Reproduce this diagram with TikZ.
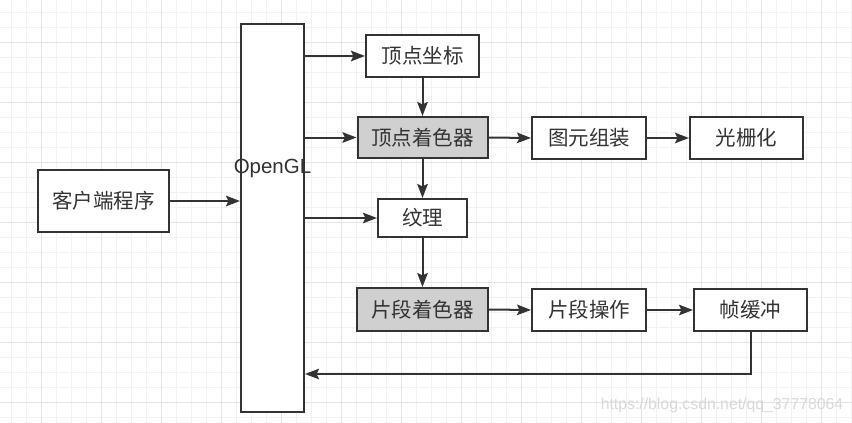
\documentclass[tikz,border=0pt]{standalone}
\usepackage{fontspec}
\setmainfont{Liberation Sans}
\newfontfamily\cjk{Noto Sans CJK SC}
\usetikzlibrary{arrows.meta}
\definecolor{ln}{HTML}{333333}
\definecolor{shade}{HTML}{D0D0D0}
\definecolor{gridminor}{HTML}{F2F2F2}
\definecolor{gridmajor}{HTML}{E4E4E4}
\begin{document}
\begin{tikzpicture}[x=1pt,y=-1pt,
  box/.style={draw=ln, line width=2pt, fill=white, inner sep=0pt, text=ln,
    font=\cjk\fontsize{20.5}{24}\selectfont},
  shadebox/.style={box, fill=shade},
  arr/.style={draw=ln, line width=2pt, -{Stealth[length=14pt,width=10.5pt,inset=2.5pt]}}
]
\fill[white] (0,0) rectangle (852,423);
\useasboundingbox (0,0) rectangle (852,423);
% grid
\foreach \x in {11,26,...,851} \draw[gridminor, line width=0.8pt] (\x,0) -- (\x,423);
\foreach \y in {12,27,...,422} \draw[gridminor, line width=0.8pt] (0,\y) -- (852,\y);
\foreach \x in {41,101,...,851} \draw[gridmajor, line width=0.8pt] (\x,0) -- (\x,423);
\foreach \y in {42,102,...,422} \draw[gridmajor, line width=0.8pt] (0,\y) -- (852,\y);

% nodes
\node[box, minimum width=131, minimum height=62] (client) at (103.5,201) {客户端程序};
\node[box, minimum width=63, minimum height=388] (opengl) at (272.5,218) {};
\node[text=ln, font=\fontsize{20.5}{24}\selectfont, inner sep=0pt] (opengltxt) at (272.5,168) {OpenGL};
\node[box, minimum width=113, minimum height=42] (vc) at (422.5,56) {顶点坐标};
\node[shadebox, minimum width=130, minimum height=41] (vs) at (422.5,137.5) {顶点着色器};
\node[box, minimum width=114, minimum height=42] (prim) at (589,138) {图元组装};
\node[box, minimum width=113, minimum height=42] (rast) at (746.5,138) {光栅化};
\node[box, minimum width=89, minimum height=38] (tex) at (422.5,218) {纹理};
\node[shadebox, minimum width=131, minimum height=43] (fs) at (422.5,309.5) {片段着色器};
\node[box, minimum width=114, minimum height=42] (fop) at (589,310) {片段操作};
\node[box, minimum width=113, minimum height=42] (fb) at (750.5,310) {帧缓冲};

% connectors
\draw[arr] (client.east) -- (client.east -| opengl.west);
\draw[arr] (opengl.east |- vc.west) -- (vc.west);
\draw[arr] (opengl.east |- vs.west) -- (vs.west);
\draw[arr] (opengl.east |- tex.west) -- (tex.west);
\draw[arr] (vc.south) -- (vs.north);
\draw[arr] (vs.south) -- (tex.north);
\draw[arr] (tex.south) -- (fs.north);
\draw[arr] (vs.east) -- (prim.west);
\draw[arr] (prim.east) -- (rast.west);
\draw[arr] (fs.east) -- (fop.west);
\draw[arr] (fop.east) -- (fb.west);
\coordinate (ret) at (750.5,374);
\draw[arr] (fb.south) -- (ret) -- (ret -| opengl.east);

% watermark
\node[text=gray!30, font=\fontsize{15.8}{18}\selectfont, inner sep=0pt] (wm) at (722,405) {https://blog.csdn.net/qq\_37778064};
\end{tikzpicture}
\end{document}
